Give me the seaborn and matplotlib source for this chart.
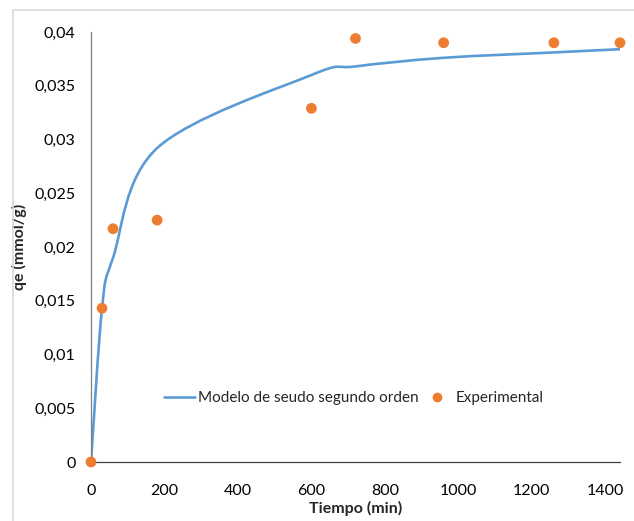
import numpy as np
import pandas as pd
import matplotlib
matplotlib.use("Agg")
import matplotlib.pyplot as plt
from matplotlib.path import Path
from matplotlib.patches import PathPatch, Rectangle
from matplotlib.lines import Line2D
from matplotlib.ticker import FuncFormatter, MultipleLocator
import seaborn as sns

# data
tiempo = [0, 30, 60, 180, 600, 720, 960, 1260, 1440]
qe_exp = [0.0, 0.0143, 0.0217, 0.0225, 0.0329, 0.0394, 0.0390, 0.0390, 0.0390]
qe_modelo = [0.0, 0.0143, 0.0190, 0.0292, 0.0360, 0.0368, 0.0376, 0.0381, 0.0384]

azul = "#5B9BD5"
naranja = "#ED7D31"

sns.set_style("white")
plt.rcParams["font.family"] = ["Lato", "DejaVu Sans"]

df = pd.DataFrame({"tiempo": tiempo, "exp": qe_exp, "modelo": qe_modelo})

fig = plt.figure(figsize=(6.34, 5.21), dpi=100)
ax = fig.add_axes([91 / 634, 59 / 521, 529 / 634, 430 / 521])

# Excel-style smoothed line (bezier through the model points)
pts = df[["tiempo", "modelo"]].to_numpy(dtype=float)
verts = [pts[0]]
codes = [Path.MOVETO]
for i in range(len(pts) - 1):
    p0 = pts[i - 1] if i > 0 else pts[i]
    p1, p2 = pts[i], pts[i + 1]
    p3 = pts[i + 2] if i + 2 < len(pts) else pts[i + 1]
    verts += [p1 + (p2 - p0) / 6, p2 - (p3 - p1) / 6, p2]
    codes += [Path.CURVE4] * 3
ax.add_patch(PathPatch(Path(verts, codes), fill=False, edgecolor=azul, lw=1.9,
                       capstyle="round", zorder=2))

sns.scatterplot(data=df, x="tiempo", y="exp", ax=ax, color=naranja, s=60,
                edgecolor="none", zorder=3, clip_on=False)

ax.set_xlim(0, 1440)
ax.set_ylim(0, 0.04)
ax.xaxis.set_major_locator(MultipleLocator(200))
ax.yaxis.set_major_locator(MultipleLocator(0.005))
ax.yaxis.set_major_formatter(FuncFormatter(lambda v, p: f"{v:g}".replace(".", ",")))
ax.tick_params(axis="both", length=0, labelsize=11.5, colors="black")
ax.tick_params(axis="x", pad=16)
ax.tick_params(axis="y", pad=11)

for s in ["top", "right"]:
    ax.spines[s].set_visible(False)
ax.spines["left"].set_color("#7f7f7f")
ax.spines["left"].set_linewidth(0.9)
ax.spines["bottom"].set_color("#404040")
ax.spines["bottom"].set_linewidth(0.9)

ax.set_xlabel("Tiempo (min)", fontsize=11.5, fontweight="bold", labelpad=2)
ax.set_ylabel("qe (mmol/g)", fontsize=11.5, fontweight="bold")
ax.yaxis.set_label_coords(-0.121, 0.5)

handles = [
    Line2D([], [], color=azul, lw=1.9),
    Line2D([], [], color=naranja, marker="o", ls="none", markersize=7, markeredgewidth=0),
]
ax.legend(handles, ["Modelo de seudo segundo orden", "Experimental"], loc="center",
          bbox_to_anchor=(0.497, 0.149), ncol=2, frameon=False, fontsize=11,
          handlelength=2.0, handletextpad=0.2, columnspacing=0.25)

# chart area border
fig.patches.append(Rectangle((13 / 634, -0.1), 1.2, (521 - 10) / 521 + 0.1,
                             transform=fig.transFigure, fill=False,
                             edgecolor="#d9d9d9", lw=1.2))

plt.savefig("out.png", dpi=100)
